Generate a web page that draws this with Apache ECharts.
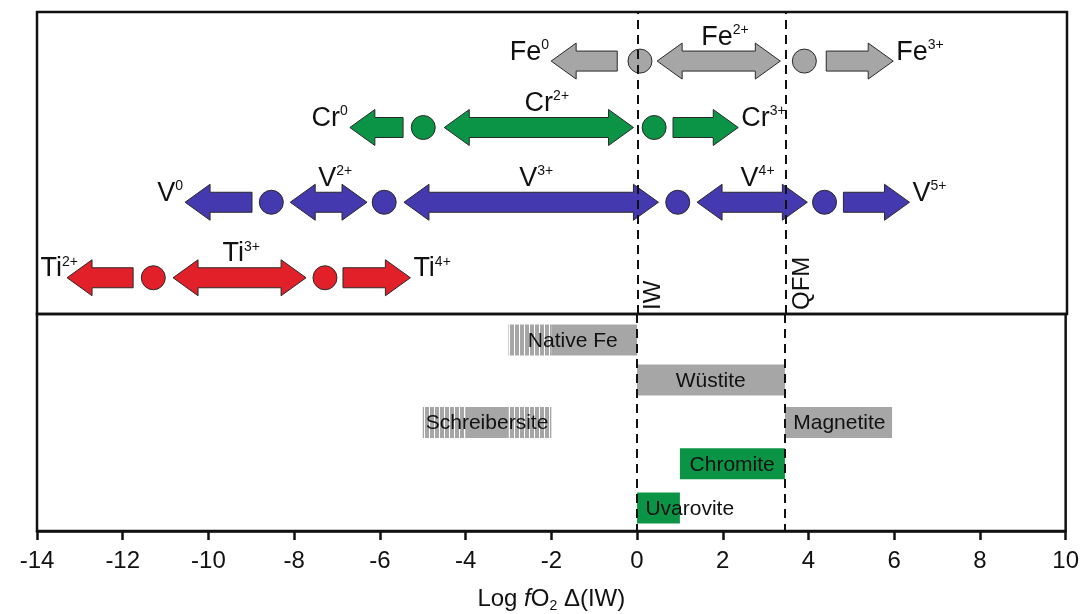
<!DOCTYPE html>
<html>
<head>
<meta charset="utf-8">
<script src="https://cdn.jsdelivr.net/npm/echarts@6/dist/echarts.min.js"></script>
<style>
html, body { margin: 0; padding: 0; background: #fff; }
#chart { width: 1082px; height: 614px; }
</style>
</head>
<body>
<div id="chart"></div>
<script>
var FONT = '"Liberation Sans", Arial, sans-serif';
var INK = '#111';
var GRAY = '#a6a6a6';
var GREEN = '#0b9446';
var BLUE = '#4439ae';
var RED = '#e2202a';

// buffer lines (log fO2 relative to IW)
var bufferNames = ['IW', 'QFM'];
var bufferValues = [0, 3.45];

// upper panel rows (level = vertical position in the upper box)
var rowNames = ['Fe', 'Cr', 'V', 'Ti'];
var rowLevels = [3.35, 2.47, 1.48, 0.48];
var rowColors = [GRAY, GREEN, BLUE, RED];

// arrows: [from, to, head]  head = left | right | both
var feArrows = [[-2.02, -0.48, 'left'], [0.45, 3.32, 'both'], [4.39, 5.95, 'right']];
var crArrows = [[-6.71, -5.47, 'left'], [-4.51, -0.1, 'both'], [0.82, 2.34, 'right']];
var vArrows = [[-10.55, -8.99, 'left'], [-8.1, -6.31, 'both'], [-5.45, 0.48, 'both'], [1.38, 3.95, 'both'], [4.79, 6.33, 'right']];
var tiArrows = [[-13.3, -11.76, 'left'], [-10.83, -7.73, 'both'], [-6.87, -5.3, 'right']];

// transition points
var feDots = [0.05, 3.88];
var crDots = [-5.0, 0.38];
var vDots = [-8.54, -5.91, 0.93, 4.35];
var tiDots = [-11.29, -7.29];

// valence labels: [x, charge, placement]
var feLabels = [[-2.02, '0', 'left'], [2.03, '2+', 'above'], [5.95, '3+', 'right']];
var crLabels = [[-6.71, '0', 'left'], [-2.12, '2+', 'above'], [2.34, '3+', 'right']];
var vLabels = [[-10.55, '0', 'left'], [-7.05, '2+', 'above'], [-2.37, '3+', 'above'], [2.79, '4+', 'above'], [6.33, '5+', 'right']];
var tiLabels = [[-13.0, '2+', 'left'], [-9.24, '3+', 'above'], [-5.3, '4+', 'right']];

// lower panel: mineral stability ranges
var mineralNames = ['Native Fe', 'Wüstite', 'Schreibersite', 'Magnetite', 'Chromite', 'Uvarovite'];
var mineralFrom = [-2, 0, -4, 3.45, 1, 0];
var mineralTo = [0, 3.45, -3, 5.95, 3.45, 1];
var mineralLevels = [0.6, 1.52, 2.5, 2.5, 3.45, 4.47];
var mineralColors = [GRAY, GRAY, GRAY, GRAY, GREEN, GREEN];
var mineralLabelX = [-1.5, 1.72, -3.5, 4.72, 2.22, 1.23];

// uncertain (hatched) extensions
var hatchFrom = [-3, -5, -3];
var hatchTo = [-2, -4, -2];
var hatchLevels = [0.6, 2.5, 2.5];

var rows = [
    { arrows: feArrows, dots: feDots, labels: feLabels },
    { arrows: crArrows, dots: crDots, labels: crLabels },
    { arrows: vArrows, dots: vDots, labels: vLabels },
    { arrows: tiArrows, dots: tiDots, labels: tiLabels }
];

// stripe pattern for the hatched parts
var hatchCanvas = document.createElement('canvas');
hatchCanvas.width = 5;
hatchCanvas.height = 4;
var hctx = hatchCanvas.getContext('2d');
hctx.fillStyle = '#ffffff';
hctx.fillRect(0, 0, 5, 4);
hctx.fillStyle = GRAY;
hctx.fillRect(0, 0, 4, 4);

var HEAD = 25, HALF_HEAD = 18, HALF_BODY = 10, DOT_R = 12, BAR_H = 31;

function arrowPoints(x1, x2, y, head) {
    var pts = [];
    if (head === 'left' || head === 'both') {
        pts.push([x1, y], [x1 + HEAD, y - HALF_HEAD], [x1 + HEAD, y - HALF_BODY]);
    } else {
        pts.push([x1, y - HALF_BODY]);
    }
    if (head === 'right' || head === 'both') {
        pts.push([x2 - HEAD, y - HALF_BODY], [x2 - HEAD, y - HALF_HEAD], [x2, y],
                 [x2 - HEAD, y + HALF_HEAD], [x2 - HEAD, y + HALF_BODY]);
    } else {
        pts.push([x2, y - HALF_BODY], [x2, y + HALF_BODY]);
    }
    if (head === 'left' || head === 'both') {
        pts.push([x1 + HEAD, y + HALF_BODY], [x1 + HEAD, y + HALF_HEAD]);
    } else {
        pts.push([x1, y + HALF_BODY]);
    }
    return pts;
}

var series = [];

rows.forEach(function (row, r) {
    var level = rowLevels[r];
    var color = rowColors[r];
    series.push({
        type: 'custom',
        xAxisIndex: 0, yAxisIndex: 0,
        z: 3,
        data: row.arrows.map(function (a) { return [a[0], a[1], level]; }),
        encode: { x: [0, 1], y: 2 },
        renderItem: function (params, api) {
            var a = row.arrows[params.dataIndex];
            var p1 = api.coord([a[0], level]);
            var p2 = api.coord([a[1], level]);
            return {
                type: 'polygon',
                shape: { points: arrowPoints(p1[0], p2[0], p1[1], a[2]) },
                style: { fill: color, stroke: '#2a2a2a', lineWidth: 1 }
            };
        }
    });
    series.push({
        type: 'custom',
        xAxisIndex: 0, yAxisIndex: 0,
        z: 4,
        data: row.dots.map(function (d) { return [d, level]; }),
        renderItem: function (params, api) {
            var p = api.coord([api.value(0), api.value(1)]);
            return {
                type: 'circle',
                shape: { cx: p[0], cy: p[1], r: DOT_R },
                style: { fill: color, stroke: '#2a2a2a', lineWidth: 1 }
            };
        }
    });
    series.push({
        type: 'custom',
        xAxisIndex: 0, yAxisIndex: 0,
        z: 5,
        data: row.labels.map(function (l) { return [l[0], level]; }),
        renderItem: function (params, api) {
            var l = row.labels[params.dataIndex];
            var p = api.coord([l[0], level]);
            var place = l[2];
            var align = place === 'left' ? 'right' : (place === 'right' ? 'left' : 'center');
            var dx = place === 'left' ? -2 : (place === 'right' ? 3 : 0);
            var top = place === 'above' ? p[1] - 38 : p[1] - 23;
            return {
                type: 'text',
                x: p[0] + dx,
                y: top,
                style: {
                    text: '{m|' + rowNames[r] + '}{s|' + l[1] + '}',
                    align: align,
                    verticalAlign: 'top',
                    rich: {
                        m: { fontSize: 27, lineHeight: 28, fontFamily: FONT, fill: INK },
                        s: { fontSize: 14, lineHeight: 10, verticalAlign: 'top', fontFamily: FONT, fill: INK }
                    }
                }
            };
        }
    });
});

// buffer names, rotated, at the bottom of the upper box
series.push({
    type: 'custom',
    xAxisIndex: 0, yAxisIndex: 0,
    z: 6,
    data: bufferValues.map(function (v) { return [v, 0]; }),
    renderItem: function (params, api) {
        var p = api.coord([api.value(0), 0]);
        return {
            type: 'text',
            x: p[0] + 4,
            y: p[1] - 4,
            rotation: Math.PI / 2,
            style: {
                text: bufferNames[params.dataIndex],
                fontSize: 24, fontFamily: FONT, fill: INK,
                align: 'left', verticalAlign: 'top'
            }
        };
    },
    markLine: {
        silent: true,
        symbol: 'none',
        label: { show: false },
        lineStyle: { color: INK, type: [9, 6], width: 2 },
        data: bufferValues.map(function (v) { return { xAxis: v }; })
    }
});

// hatched uncertain ranges
series.push({
    type: 'custom',
    xAxisIndex: 1, yAxisIndex: 1,
    z: 2,
    data: hatchFrom.map(function (f, i) { return [f, hatchTo[i], hatchLevels[i]]; }),
    encode: { x: [0, 1], y: 2 },
    renderItem: function (params, api) {
        var p1 = api.coord([api.value(0), api.value(2)]);
        var p2 = api.coord([api.value(1), api.value(2)]);
        return {
            type: 'rect',
            shape: { x: p1[0], y: p1[1] - BAR_H / 2, width: p2[0] - p1[0], height: BAR_H },
            style: { fill: { image: hatchCanvas, repeat: 'repeat' } }
        };
    }
});

// solid mineral bars
series.push({
    type: 'custom',
    xAxisIndex: 1, yAxisIndex: 1,
    z: 2,
    data: mineralFrom.map(function (f, i) { return [f, mineralTo[i], mineralLevels[i]]; }),
    encode: { x: [0, 1], y: 2 },
    renderItem: function (params, api) {
        var p1 = api.coord([api.value(0), api.value(2)]);
        var p2 = api.coord([api.value(1), api.value(2)]);
        return {
            type: 'rect',
            shape: { x: p1[0], y: p1[1] - BAR_H / 2, width: p2[0] - p1[0], height: BAR_H },
            style: { fill: mineralColors[params.dataIndex] }
        };
    },
    markLine: {
        silent: true,
        symbol: 'none',
        label: { show: false },
        lineStyle: { color: INK, type: [9, 6], width: 2 },
        data: bufferValues.map(function (v) { return { xAxis: v }; })
    }
});

// mineral names
series.push({
    type: 'custom',
    xAxisIndex: 1, yAxisIndex: 1,
    z: 5,
    data: mineralLabelX.map(function (x, i) { return [x, mineralLevels[i]]; }),
    renderItem: function (params, api) {
        var p = api.coord([api.value(0), api.value(1)]);
        return {
            type: 'text',
            x: p[0],
            y: p[1] + 1,
            style: {
                text: mineralNames[params.dataIndex],
                fontSize: 21, fontFamily: FONT, fill: INK,
                align: 'center', verticalAlign: 'middle'
            }
        };
    }
});

var chart = echarts.init(document.getElementById('chart'), null, { renderer: 'canvas' });
chart.setOption({
    animation: false,
    backgroundColor: '#fff',
    grid: [
        { left: 37, right: 15, top: 12, height: 302, show: true, borderColor: INK, borderWidth: 2.5, backgroundColor: 'transparent' },
        { left: 37, right: 15, top: 314, height: 217, show: true, borderColor: INK, borderWidth: 2.5, backgroundColor: 'transparent' }
    ],
    xAxis: [
        { gridIndex: 0, type: 'value', min: -14, max: 10, show: false },
        {
            gridIndex: 1, type: 'value', min: -14, max: 10, interval: 2,
            position: 'bottom',
            axisLine: { onZero: false, lineStyle: { color: INK, width: 2.5 } },
            axisTick: { length: 9, lineStyle: { color: INK, width: 2.5 } },
            axisLabel: { fontSize: 24, color: INK, fontFamily: FONT, margin: 18 },
            splitLine: { show: false },
            name: 'Log {i|f}O{sub|2} Δ(IW)',
            nameLocation: 'middle',
            nameGap: 54,
            nameTextStyle: {
                fontSize: 24, color: INK, fontFamily: FONT, lineHeight: 28,
                rich: {
                    i: { fontSize: 24, fontStyle: 'italic', fontFamily: FONT, color: INK, lineHeight: 28 },
                    sub: { fontSize: 14, fontFamily: FONT, color: INK, lineHeight: 8, verticalAlign: 'bottom' }
                }
            }
        }
    ],
    yAxis: [
        { gridIndex: 0, type: 'value', min: 0, max: 4, show: false },
        { gridIndex: 1, type: 'value', min: 0, max: 5, inverse: true, show: false }
    ],
    series: series
});
</script>
</body>
</html>
